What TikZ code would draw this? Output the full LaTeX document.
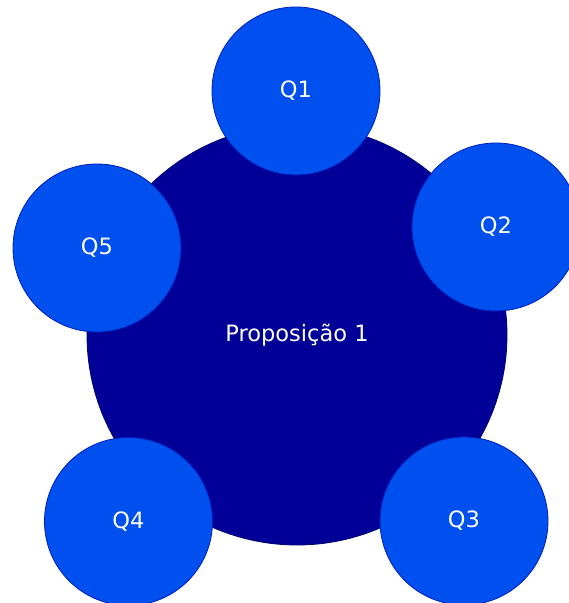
\documentclass[tikz,border=0pt]{standalone}
\usepackage{fontspec}
\setmainfont{DejaVu Sans}
\definecolor{coreblue}{RGB}{0,0,153}
\definecolor{coreedge}{RGB}{0,0,110}
\definecolor{satblue}{RGB}{0,80,239}
\definecolor{satedge}{RGB}{0,29,188}
\tikzset{
  labelfont/.style={font=\fontsize{22.5}{26}\selectfont},
  core/.style={circle, fill=coreblue, draw=coreedge, line width=0.8pt,
    minimum size=420pt, inner sep=0pt, text=white, labelfont},
  satellite/.style={circle, fill=satblue, draw=satedge, line width=0.8pt,
    minimum size=168pt, inner sep=0pt, text=white, labelfont}
}
\begin{document}
\begin{tikzpicture}[x=1pt, y=-1pt]
  \useasboundingbox (0,0) rectangle (569,603);
  \node[core] (p) at (297,335) {Proposição 1};
  \node[satellite] (q1) at (296,91) {Q1};
  \node[satellite] (q2) at (496,227) {Q2};
  \node[satellite] (q3) at (464,521) {Q3};
  \node[satellite] (q4) at (128.5,521.5) {Q4};
  \node[satellite] (q5) at (97,248) {Q5};
\end{tikzpicture}
\end{document}
